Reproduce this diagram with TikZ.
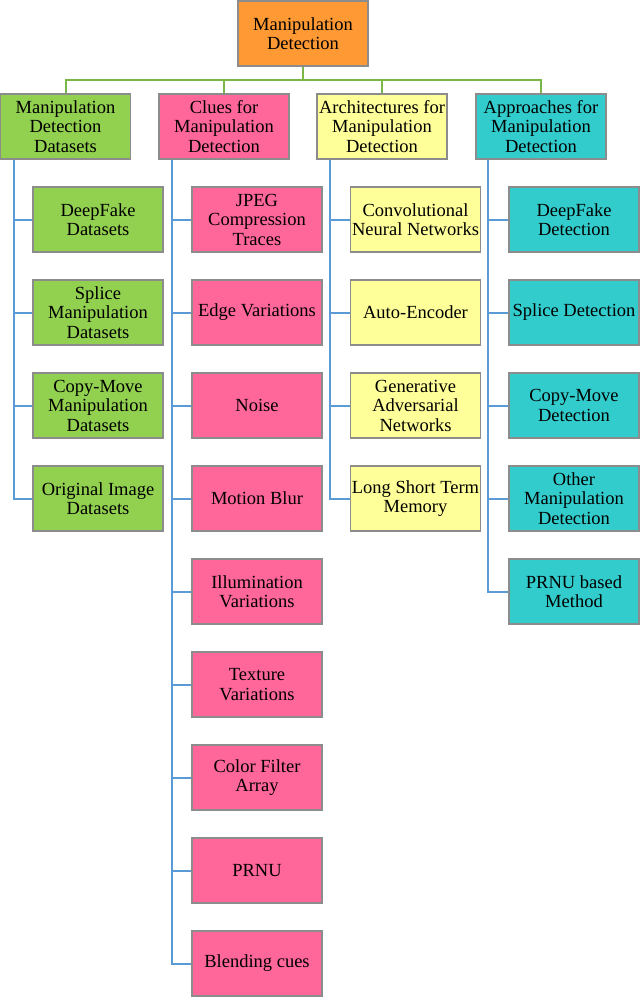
\documentclass[tikz,border=0pt]{standalone}
\usepackage{fontspec}
\setmainfont{Liberation Serif}
\definecolor{corange}{HTML}{FF9933}
\definecolor{cgreen}{HTML}{92D050}
\definecolor{cpink}{HTML}{FF6699}
\definecolor{cyellow}{HTML}{FFFF99}
\definecolor{cteal}{HTML}{33CCCC}
\definecolor{cborder}{HTML}{8C8C8C}
\definecolor{glink}{HTML}{7AB648}
\definecolor{blink}{HTML}{5B9BD5}
\tikzset{
  box/.style={draw=cborder, line width=1.3pt, minimum width=130pt, minimum height=65pt,
    inner sep=1pt, align=center, font=\fontsize{18.5}{19.5}\selectfont},
  greenline/.style={draw=glink, line width=2pt},
  blueline/.style={draw=blink, line width=2pt},
}
\begin{document}
\begin{tikzpicture}[x=1pt,y=-1pt]
\useasboundingbox (0,0) rectangle (640,997);
\node[box, fill=corange] (root) at (303,33.5) {Manipulation\\Detection};
\node[box, fill=cgreen] (A) at (65.5,126.5) {Manipulation\\Detection\\Datasets};
\node[box, fill=cpink] (B) at (224,126.5) {Clues for\\Manipulation\\Detection};
\node[box, fill=cyellow] (C) at (382,126.5) {Architectures for\\Manipulation\\Detection};
\node[box, fill=cteal] (D) at (541,126.5) {Approaches for\\Manipulation\\Detection};
\coordinate (bus) at (0,80);
\draw[greenline] (root.south) -- (root.south |- bus);
\draw[greenline] (A.north) -- (A.north |- bus) -- (D.north |- bus) -- (D.north);
\draw[greenline] (B.north) -- (B.north |- bus);
\draw[greenline] (C.north) -- (C.north |- bus);
% trunks
\coordinate (tA) at (14,0);
\coordinate (tB) at (172,0);
\coordinate (tC) at (330,0);
\coordinate (tD) at (488,0);
\foreach \t [count=\i from 0] in {{DeepFake\\Datasets},{Splice\\Manipulation\\Datasets},{Copy-Move\\Manipulation\\Datasets},{Original Image\\Datasets}}{
  \draw[blueline] (tA |- A.south) |- (98,219.5+93*\i);
  \node[box, fill=cgreen] (A\i) at (98,219.5+93*\i) {\t};
}
\foreach \t [count=\i from 0] in {{JPEG\\Compression\\Traces},{Edge Variations},{Noise},{Motion Blur},{Illumination\\Variations},{Texture\\Variations},{Color Filter\\Array},{PRNU},{Blending cues}}{
  \draw[blueline] (tB |- B.south) |- (257,219.5+93*\i);
  \node[box, fill=cpink] (B\i) at (257,219.5+93*\i) {\t};
}
\foreach \t [count=\i from 0] in {{Convolutional\\Neural Networks},{Auto-Encoder},{Generative\\Adversarial\\Networks},{Long Short Term\\Memory}}{
  \draw[blueline] (tC |- C.south) |- (415.5,219.5+93*\i);
  \node[box, fill=cyellow] (C\i) at (415.5,219.5+93*\i) {\t};
}
\foreach \t [count=\i from 0] in {{DeepFake\\Detection},{Splice Detection},{Copy-Move\\Detection},{Other\\Manipulation\\Detection},{PRNU based\\Method}}{
  \draw[blueline] (tD |- D.south) |- (574,219.5+93*\i);
  \node[box, fill=cteal] (D\i) at (574,219.5+93*\i) {\t};
}
\end{tikzpicture}
\end{document}
